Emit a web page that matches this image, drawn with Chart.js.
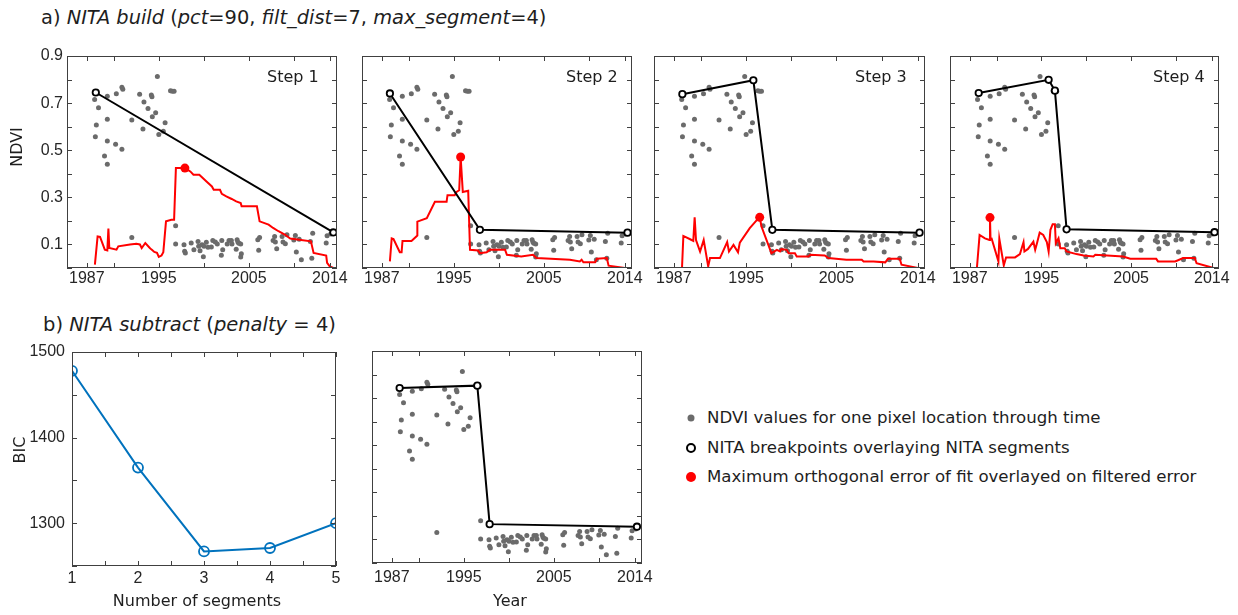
<!DOCTYPE html>
<html>
<head>
<meta charset="utf-8">
<title>NITA build and subtract</title>
<script src="https://cdn.jsdelivr.net/npm/chart.js@4.4.0/dist/chart.umd.min.js"></script>
<style>
  body { margin: 0; background: #fff; }
  #fig { position: relative; width: 1238px; height: 615px; overflow: hidden; }
  canvas { position: absolute; }
  .txt { position: absolute; white-space: nowrap; font-family: 'DejaVu Sans', Verdana, sans-serif;
         font-size: 16px; line-height: 1; color: #1e1e1e; }
  .mid { transform: translate(-50%, -50%); }
  .rot { transform: translate(-50%, -50%) rotate(-90deg); }
  .legend { font-size: 16.6px; transform: translateY(-50%); }
  .mark { position: absolute; border-radius: 50%; box-sizing: border-box; transform: translate(-50%, -50%); }
</style>
</head>
<body>
<div id="fig">
  <div class="txt" style="left:41px;top:8px;font-size:19.4px">a) <i>NITA build</i> (<i>pct</i>=90, <i>filt_dist</i>=7, <i>max_segment</i>=4)</div>
  <div class="txt" style="left:43px;top:315px;font-size:19.5px">b) <i>NITA subtract</i> (<i>penalty</i> = 4)</div>

  <canvas id="step1"></canvas>
  <canvas id="step2"></canvas>
  <canvas id="step3"></canvas>
  <canvas id="step4"></canvas>
  <canvas id="bic"></canvas>
  <canvas id="final"></canvas>

  <div class="txt" style="left:267px;top:69px">Step 1</div>
  <div class="txt" style="left:566px;top:69px">Step 2</div>
  <div class="txt" style="left:855px;top:69px">Step 3</div>
  <div class="txt" style="left:1153px;top:69px">Step 4</div>

  <div class="txt rot" style="left:17px;top:147px">NDVI</div>
  <div class="txt rot" style="left:20px;top:450px">BIC</div>
  <div class="txt mid" style="left:197px;top:601px">Number of segments</div>
  <div class="txt mid" style="left:510px;top:601px">Year</div>

  <div class="mark" style="left:691px;top:418px;width:7px;height:7px;background:#6b6b6b"></div>
  <div class="txt legend" style="left:707px;top:418px">NDVI values for one pixel location through time</div>
  <div class="mark" style="left:691px;top:448px;width:10px;height:10px;border:2.2px solid #000;background:#fff"></div>
  <div class="txt legend" style="left:707px;top:448px">NITA breakpoints overlaying NITA segments</div>
  <div class="mark" style="left:691px;top:477px;width:10px;height:10px;background:#ff0000"></div>
  <div class="txt legend" style="left:707px;top:477px">Maximum orthogonal error of fit overlayed on filtered error</div>
</div>

<script>
// NDVI values for one pixel through time
const ndviYears = [1987.87,1988.06,1987.95,1988.3,1988.97,1989.28,1989.28,1989.28,1989.28,1990.2,1990.28,1990.9,1991.0,1990.9,1992.0,1992.0,
  1992.87,1993.24,1993.35,1993.8,1994.17,1994.24,1994.28,1994.65,1994.84,1995.0,1995.5,1995.7,1996.3,1996.5,1996.7,
  1996.87,1996.87,1997.8,1997.87,1997.95,1998.6,1998.9,1999.36,1999.43,1999.58,1999.8,1999.95,2000.02,2000.28,2000.47,2000.84,
  2001.0,2001.28,2001.5,2001.95,2002.0,2002.1,2002.6,2002.8,2003.06,2003.13,2003.6,2003.7,2003.8,2003.9,2004.1,2004.17,2004.1,
  2006.0,2006.1,2006.2,2007.7,2007.87,2007.95,2008.1,2008.7,2008.8,2009.06,2009.24,2010.0,2010.17,2010.28,2010.6,2010.84,
  2011.84,2012.0,2012.1,2013.6,2013.7,2014.1];
const ndviValues = [0.715,0.607,0.557,0.68,0.475,0.729,0.632,0.539,0.44,0.525,0.74,0.767,0.759,0.504,0.628,0.13,
  0.738,0.59,0.705,0.677,0.734,0.727,0.642,0.659,0.813,0.567,0.581,0.617,0.752,0.75,0.75,
  0.179,0.102,0.099,0.071,0.064,0.106,0.078,0.113,0.092,0.073,0.099,0.048,0.092,0.109,0.088,0.089,
  0.117,0.11,0.102,0.054,0.117,0.078,0.102,0.117,0.117,0.102,0.08,0.12,0.109,0.105,0.102,0.06,0.047,
  0.12,0.075,0.13,0.117,0.134,0.11,0.082,0.134,0.11,0.103,0.141,0.119,0.138,0.068,0.122,0.035,
  0.113,0.041,0.148,0.106,0.137,0.144];

// filtered error (red lines) for each build step
const err1Years = [1987.9,1988.2,1988.47,1989.0,1989.28,1989.4,1989.5,1990.3,1990.5,1991.8,1992.5,1992.9,1993.1,1993.5,1994.0,1994.2,
  1994.5,1994.8,1995.0,1995.3,1995.5,1995.8,1996.4,1996.7,1996.9,1997.5,1997.9,1998.5,1998.85,1999.5,2000.3,2000.9,2001.1,2001.8,
  2002.0,2002.5,2003.1,2003.6,2004.1,2004.2,2005.9,2006.2,2007.2,2007.7,2008.3,2009.0,2009.6,2010.6,2011.9,2012.2,2013.6,2013.7,2014.0,2014.4];
const err1Values = [0.014,0.134,0.132,0.078,0.075,0.167,0.085,0.078,0.092,0.1,0.103,0.1,0.085,0.106,0.085,0.078,
  0.068,0.064,0.047,0.053,0.067,0.198,0.205,0.205,0.424,0.424,0.424,0.41,0.396,0.396,0.367,0.346,0.332,0.332,
  0.315,0.304,0.293,0.283,0.276,0.262,0.262,0.198,0.184,0.17,0.156,0.142,0.125,0.12,0.113,0.064,0.053,0.022,0.007,0];
const err2Years = [1987.9,1988.1,1988.3,1989.0,1989.2,1989.3,1990.3,1990.95,1990.95,1992.0,1992.9,1994.2,1994.3,1995.1,1995.3,1995.6,
  1995.76,1996.0,1996.6,1996.8,1997.7,1997.9,1998.65,1999.0,2000.7,2000.9,2002.5,2003.8,2004.2,2007.9,2009.0,2009.2,2009.4,2010.7,
  2010.9,2012.0,2012.2,2014.0];
const err2Values = [0.028,0.126,0.123,0.067,0.067,0.115,0.115,0.138,0.197,0.211,0.281,0.281,0.309,0.309,0.323,0.33,
  0.471,0.323,0.328,0.077,0.074,0.063,0.067,0.077,0.077,0.056,0.049,0.056,0.042,0.035,0.028,0.035,0.024,0.024,
  0.039,0.042,0.01,0];
const err3Years = [1987.9,1988.05,1988.8,1989.15,1989.3,1989.45,1989.9,1990.3,1990.8,1991.0,1992.1,1992.9,1993.1,1993.6,1994.1,1994.3,
  1995.4,1996.2,1996.5,1996.7,1997.8,1998.4,1998.75,1998.9,1999.5,1999.7,2000.4,2000.6,2001.9,2002.1,2003.7,2004.1,2006.1,2007.8,
  2008.0,2009.1,2010.4,2010.7,2012.0,2012.2,2014.0];
const err3Values = [0,0.136,0.122,0.115,0.215,0.119,0.07,0.119,0.007,0.042,0.042,0.11,0.07,0.098,0.067,0.108,
  0.169,0.204,0.215,0.176,0.063,0.077,0.07,0.08,0.077,0.063,0.063,0.049,0.049,0.056,0.053,0.042,0.035,0.035,
  0.028,0.028,0.024,0.039,0.039,0.014,0];
const err4Years = [1987.8,1988.1,1988.7,1989.2,1989.26,1989.32,1989.45,1990.2,1990.3,1990.8,1991.05,1992.05,1992.6,1993.0,1993.1,1993.5,
  1994.1,1994.3,1994.5,1994.8,1995.2,1995.6,1995.8,1996.0,1996.25,1996.5,1996.6,1996.9,1997.1,1997.6,1997.8,1998.9,1999.7,2000.8,
  2001.0,2004.1,2004.9,2007.8,2008.0,2009.9,2010.1,2010.8,2012.1,2012.3,2014.2];
const err4Values = [0,0.14,0.126,0.119,0.214,0.122,0.124,0.028,0.124,0.011,0.045,0.045,0.059,0.11,0.07,0.081,
  0.112,0.077,0.105,0.15,0.14,0.11,0.07,0.162,0.186,0.186,0.105,0.126,0.084,0.084,0.07,0.059,0.053,0.049,
  0.056,0.049,0.039,0.039,0.028,0.028,0.031,0.042,0.042,0.02,0];

// maximum orthogonal error [year, value] per step
const maxErr1 = [1997.9, 0.424];
const maxErr2 = [1995.76, 0.471];
const maxErr3 = [1996.5, 0.215];
const maxErr4 = [1989.26, 0.214];

// breakpoints per step
const bp1Years = [1988.0, 2014.4];
const bp1Values = [0.745, 0.151];
const bp2Years = [1987.9, 1997.9, 2014.3];
const bp2Values = [0.741, 0.162, 0.15];
const bp3Years = [1987.94, 1995.8, 1997.9, 2014.2];
const bp3Values = [0.738, 0.797, 0.162, 0.15];
const bp4Years = [1988.0, 1995.8, 1996.5, 1997.8, 2014.3];
const bp4Values = [0.743, 0.799, 0.753, 0.164, 0.152];
const finalBpYears = [1987.87, 1996.5, 1997.87, 2014.24];
const finalBpValues = [0.743, 0.753, 0.165, 0.154];

// BIC by number of segments
const segments = [1, 2, 3, 4, 5];
const bicValues = [1478, 1365, 1267, 1271, 1300];

// axis ticks
const yearTicks = [1987, 1990, 1995, 2000, 2005, 2010, 2014];
const yearLabels = [1987, 1995, 2005, 2014];
const ndviTicks = [0, 0.1, 0.2, 0.3, 0.4, 0.5, 0.6, 0.7, 0.8, 0.9];
const ndviLabels = ['0.1', '0.3', '0.5', '0.7', '0.9'];
const bicTicks = [1250, 1300, 1350, 1400, 1450, 1500];
const bicLabels = [1300, 1400, 1500];
const segTicks = [1, 1.5, 2, 2.5, 3, 3.5, 4, 4.5, 5];

const RED = '#ff0000';
const GREY = '#6b6b6b';

Chart.defaults.font.family = "'Liberation Sans', Arial, sans-serif";
Chart.defaults.font.size = 16;
Chart.defaults.color = '#262626';

const zip = (xs, ys) => xs.map((x, i) => ({x: x, y: ys[i]}));

// box around the plot with inward tick marks (matlab style)
const boxAxes = {
  id: 'boxAxes',
  afterDraw(chart) {
    const {ctx, chartArea: a, scales} = chart;
    ctx.save();
    ctx.strokeStyle = '#404040';
    ctx.lineWidth = 1;
    ctx.beginPath();
    scales.x.ticks.forEach(t => {
      const px = Math.round(scales.x.getPixelForValue(t.value)) + 0.5;
      ctx.moveTo(px, a.bottom); ctx.lineTo(px, a.bottom - 5);
      ctx.moveTo(px, a.top); ctx.lineTo(px, a.top + 5);
    });
    scales.y.ticks.forEach(t => {
      const py = Math.round(scales.y.getPixelForValue(t.value)) + 0.5;
      ctx.moveTo(a.left, py); ctx.lineTo(a.left + 5, py);
      ctx.moveTo(a.right, py); ctx.lineTo(a.right - 5, py);
    });
    ctx.stroke();
    ctx.strokeRect(a.left + 0.5, a.top + 0.5, a.right - a.left - 1, a.bottom - a.top - 1);
    ctx.restore();
  }
};

function fixedTicks(values) {
  return s => { s.ticks = values.map(v => ({value: v})); };
}

// canvas box and the wanted plot rectangle, in page pixels
function makeChart(id, box, plot, datasets, xOpts, yOpts) {
  const cv = document.getElementById(id);
  cv.width = box.w; cv.height = box.h;
  cv.style.left = box.x + 'px'; cv.style.top = box.y + 'px';
  cv.style.width = box.w + 'px'; cv.style.height = box.h + 'px';
  const yW = plot.l - box.x;
  const xH = box.y + box.h - plot.b;
  return new Chart(cv, {
    type: 'scatter',
    data: {datasets: datasets},
    options: {
      responsive: false,
      animation: false,
      devicePixelRatio: 1,
      layout: {padding: {left: 0, top: plot.t - box.y, right: box.x + box.w - plot.r, bottom: 0}},
      plugins: {legend: {display: false}, tooltip: {enabled: false}},
      scales: {
        x: Object.assign({
          type: 'linear',
          grid: {display: false, drawTicks: false},
          border: {display: false},
          afterFit: s => { s.height = xH; s.paddingLeft = 0; s.paddingRight = 0; }
        }, xOpts),
        y: Object.assign({
          type: 'linear',
          grid: {display: false, drawTicks: false},
          border: {display: false},
          afterFit: s => { s.width = yW; s.paddingTop = 0; s.paddingBottom = 0; }
        }, yOpts)
      }
    },
    plugins: [boxAxes]
  });
}

function yearAxis(pad) {
  return {
    min: 1984.8, max: 2014.8,
    afterBuildTicks: fixedTicks(yearTicks),
    ticks: {padding: pad, autoSkip: false, maxRotation: 0,
      callback: v => yearLabels.includes(v) ? String(v) : ''}
  };
}

function ndviAxis(showLabels) {
  return {
    min: 0, max: 0.9,
    afterBuildTicks: fixedTicks(ndviTicks),
    ticks: {padding: 4, autoSkip: false,
      callback: v => {
        const s = v.toFixed(1);
        return showLabels && ndviLabels.includes(s) ? s : '';
      }}
  };
}

function stepSets(bpX, bpY, errX, errY, maxPt) {
  const sets = [];
  if (maxPt) {
    sets.push({data: [{x: maxPt[0], y: maxPt[1]}], pointRadius: 4.5,
      backgroundColor: RED, borderColor: RED, borderWidth: 0});
  }
  sets.push({data: zip(bpX, bpY), showLine: true, borderColor: '#000', borderWidth: 2,
    pointRadius: 3.2, pointBorderWidth: 1.8, pointBackgroundColor: '#fff', pointBorderColor: '#000'});
  if (errX) {
    sets.push({data: zip(errX, errY), showLine: true, borderColor: RED, borderWidth: 2,
      pointRadius: 0});
  }
  sets.push({data: zip(ndviYears, ndviValues), pointRadius: 2.5,
    backgroundColor: GREY, borderWidth: 0});
  return sets;
}

// a) build steps
makeChart('step1', {x: 0, y: 40, w: 362, h: 260}, {l: 67, t: 56, r: 337, b: 268},
  stepSets(bp1Years, bp1Values, err1Years, err1Values, maxErr1), yearAxis(1), ndviAxis(true));
makeChart('step2', {x: 332, y: 40, w: 325, h: 260}, {l: 362, t: 56, r: 632, b: 268},
  stepSets(bp2Years, bp2Values, err2Years, err2Values, maxErr2), yearAxis(1), ndviAxis(false));
makeChart('step3', {x: 624, y: 40, w: 326, h: 260}, {l: 654, t: 56, r: 925, b: 268},
  stepSets(bp3Years, bp3Values, err3Years, err3Values, maxErr3), yearAxis(1), ndviAxis(false));
makeChart('step4', {x: 920, y: 40, w: 318, h: 260}, {l: 950, t: 56, r: 1219, b: 268},
  stepSets(bp4Years, bp4Values, err4Years, err4Values, maxErr4), yearAxis(1), ndviAxis(false));

// b) subtract: BIC curve
makeChart('bic', {x: 0, y: 340, w: 350, h: 260}, {l: 72, t: 352, r: 336, b: 566},
  [{data: zip(segments, bicValues), showLine: true, borderColor: '#0072bd', borderWidth: 2,
    pointRadius: 5, pointBorderWidth: 1.8, pointBorderColor: '#0072bd', pointBackgroundColor: 'rgba(255,255,255,0)'}],
  {min: 1, max: 5, afterBuildTicks: fixedTicks(segTicks),
   ticks: {padding: 3, autoSkip: false, maxRotation: 0, callback: v => Number.isInteger(v) ? String(v) : ''}},
  {min: 1250, max: 1500, afterBuildTicks: fixedTicks(bicTicks),
   ticks: {padding: 7, autoSkip: false, callback: v => bicLabels.includes(v) ? String(v) : ''}});

// b) subtract: final segments
makeChart('final', {x: 342, y: 340, w: 320, h: 260}, {l: 372, t: 351, r: 642, b: 563},
  stepSets(finalBpYears, finalBpValues, null, null, null), yearAxis(5), ndviAxis(false));
</script>
</body>
</html>
